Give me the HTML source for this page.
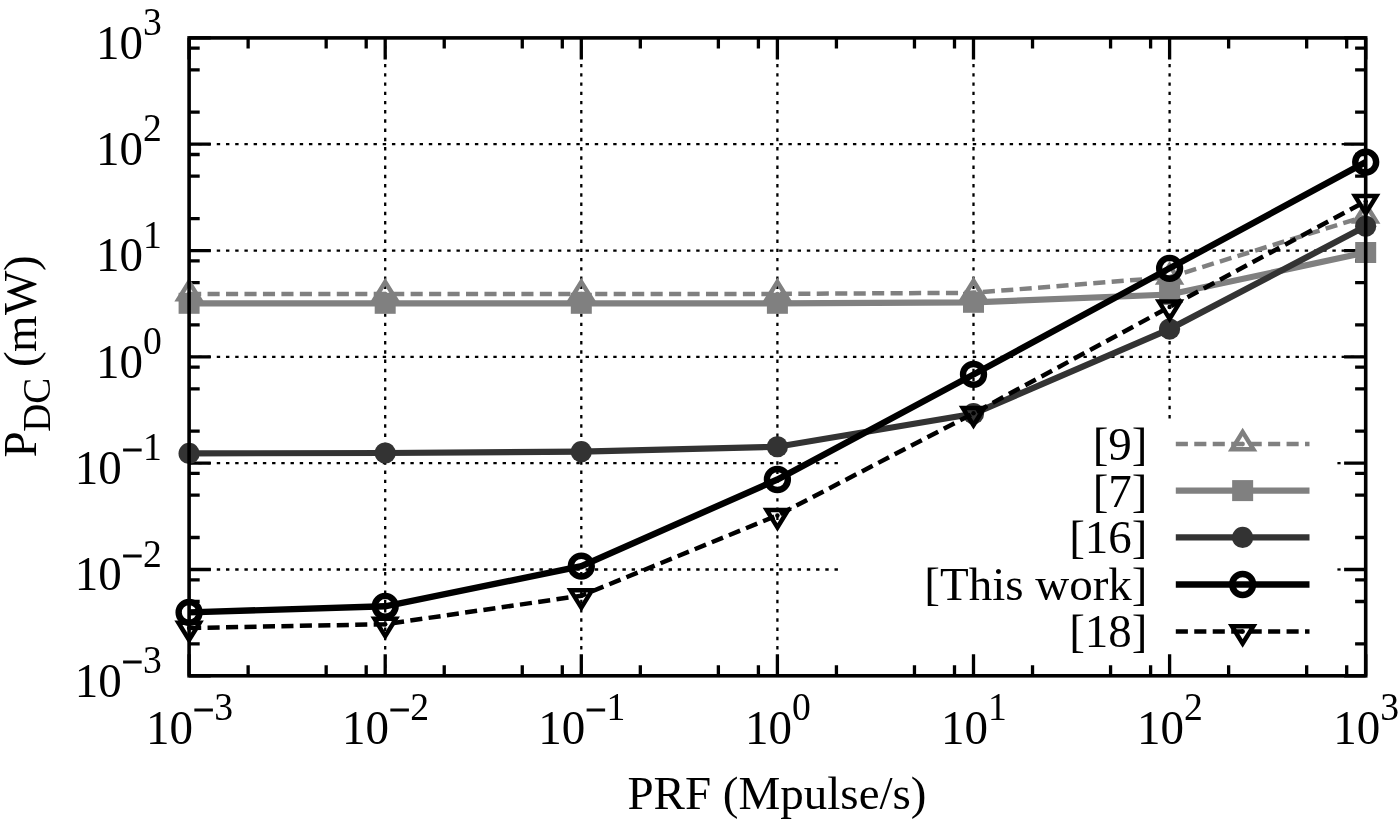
<!DOCTYPE html>
<html lang="en"><head><meta charset="utf-8"><title>P_DC vs PRF</title>
<style>html,body{margin:0;padding:0;background:#fff;overflow:hidden}svg{display:block}text{font-family:"Liberation Serif", serif;fill:#000}</style>
</head><body>
<svg width="1400" height="823" viewBox="0 0 1400 823">
<rect x="0" y="0" width="1400" height="823" fill="#ffffff"/>
<g fill="none" stroke="#000" stroke-width="2.3">
<path d="M189.1 144.22H1365.7" stroke-dasharray="3.4 5.82" stroke-dashoffset="0"/>
<path d="M189.1 250.53H1365.7" stroke-dasharray="3.4 5.82" stroke-dashoffset="0"/>
<path d="M189.1 356.85H1365.7" stroke-dasharray="3.4 5.82" stroke-dashoffset="0"/>
<path d="M189.1 463.17H839" stroke-dasharray="3.4 5.82" stroke-dashoffset="0"/>
<path d="M1337.4 463.17H1340.6"/>
<path d="M189.1 569.48H839" stroke-dasharray="3.4 5.82" stroke-dashoffset="0"/>
<path d="M1337.4 569.48H1340.6"/>
<path d="M385.2 37.9V675.8" stroke-dasharray="3.4 5.84" stroke-dashoffset="1.7"/>
<path d="M581.3 37.9V675.8" stroke-dasharray="3.4 5.84" stroke-dashoffset="1.7"/>
<path d="M777.4 37.9V675.8" stroke-dasharray="3.4 5.84" stroke-dashoffset="1.7"/>
<path d="M973.5 37.9V421" stroke-dasharray="3.4 5.84" stroke-dashoffset="1.7"/>
<path d="M973.5 665V675.8" stroke-dasharray="3.4 5.84" stroke-dashoffset="0.48"/>
<path d="M1169.6 37.9V421" stroke-dasharray="3.4 5.84" stroke-dashoffset="1.7"/>
<path d="M1169.6 665V675.8" stroke-dasharray="3.4 5.84" stroke-dashoffset="0.48"/>
</g>
<path d="M189.1 675.8V654.2M189.1 37.9V59.5M189.1 37.9H210.7M1365.7 37.9H1344.1M385.2 675.8V654.2M385.2 37.9V59.5M189.1 144.22H210.7M1365.7 144.22H1344.1M581.3 675.8V654.2M581.3 37.9V59.5M189.1 250.53H210.7M1365.7 250.53H1344.1M777.4 675.8V654.2M777.4 37.9V59.5M189.1 356.85H210.7M1365.7 356.85H1344.1M973.5 675.8V654.2M973.5 37.9V59.5M189.1 463.17H210.7M1365.7 463.17H1344.1M1169.6 675.8V654.2M1169.6 37.9V59.5M189.1 569.48H210.7M1365.7 569.48H1344.1M1365.7 675.8V654.2M1365.7 37.9V59.5M189.1 675.8H210.7M1365.7 675.8H1344.1M248.13 675.8V665.2M248.13 37.9V48.5M189.1 643.8H199.7M1365.7 643.8H1355.1M326.17 675.8V665.2M326.17 37.9V48.5M189.1 601.49H199.7M1365.7 601.49H1355.1M366.2 675.8V665.2M366.2 37.9V48.5M189.1 579.79H199.7M1365.7 579.79H1355.1M444.23 675.8V665.2M444.23 37.9V48.5M189.1 537.48H199.7M1365.7 537.48H1355.1M522.27 675.8V665.2M522.27 37.9V48.5M189.1 495.17H199.7M1365.7 495.17H1355.1M562.3 675.8V665.2M562.3 37.9V48.5M189.1 473.47H199.7M1365.7 473.47H1355.1M640.33 675.8V665.2M640.33 37.9V48.5M189.1 431.16H199.7M1365.7 431.16H1355.1M718.37 675.8V665.2M718.37 37.9V48.5M189.1 388.85H199.7M1365.7 388.85H1355.1M758.4 675.8V665.2M758.4 37.9V48.5M189.1 367.15H199.7M1365.7 367.15H1355.1M836.43 675.8V665.2M836.43 37.9V48.5M189.1 324.85H199.7M1365.7 324.85H1355.1M914.47 675.8V665.2M914.47 37.9V48.5M189.1 282.54H199.7M1365.7 282.54H1355.1M954.5 675.8V665.2M954.5 37.9V48.5M189.1 260.84H199.7M1365.7 260.84H1355.1M1032.53 675.8V665.2M1032.53 37.9V48.5M189.1 218.53H199.7M1365.7 218.53H1355.1M1110.57 675.8V665.2M1110.57 37.9V48.5M189.1 176.22H199.7M1365.7 176.22H1355.1M1150.6 675.8V665.2M1150.6 37.9V48.5M189.1 154.52H199.7M1365.7 154.52H1355.1M1228.63 675.8V665.2M1228.63 37.9V48.5M189.1 112.21H199.7M1365.7 112.21H1355.1M1306.67 675.8V665.2M1306.67 37.9V48.5M189.1 69.9H199.7M1365.7 69.9H1355.1M1346.7 675.8V665.2M1346.7 37.9V48.5M189.1 48.2H199.7M1365.7 48.2H1355.1" fill="none" stroke="#000" stroke-width="3.3"/>
<g>
<polyline points="189.1,293.9 385.2,293.9 581.3,293.9 777.4,293.9 973.5,292.8 1169.6,277.2 1365.7,216.2" fill="none" stroke="#808080" stroke-width="4.5" stroke-linejoin="miter" stroke-dasharray="12.1 6.36"/>
<path d="M189.1 281.92L178.4 299.25H199.8Z" fill="none" stroke="#808080" stroke-width="4.5" stroke-linejoin="miter" stroke-miterlimit="10"/><circle cx="189.1" cy="293.9" r="2.25" fill="#808080"/>
<path d="M385.2 281.92L374.5 299.25H395.9Z" fill="none" stroke="#808080" stroke-width="4.5" stroke-linejoin="miter" stroke-miterlimit="10"/><circle cx="385.2" cy="293.9" r="2.25" fill="#808080"/>
<path d="M581.3 281.92L570.6 299.25H592Z" fill="none" stroke="#808080" stroke-width="4.5" stroke-linejoin="miter" stroke-miterlimit="10"/><circle cx="581.3" cy="293.9" r="2.25" fill="#808080"/>
<path d="M777.4 281.92L766.7 299.25H788.1Z" fill="none" stroke="#808080" stroke-width="4.5" stroke-linejoin="miter" stroke-miterlimit="10"/><circle cx="777.4" cy="293.9" r="2.25" fill="#808080"/>
<path d="M973.5 280.82L962.8 298.15H984.2Z" fill="none" stroke="#808080" stroke-width="4.5" stroke-linejoin="miter" stroke-miterlimit="10"/><circle cx="973.5" cy="292.8" r="2.25" fill="#808080"/>
<path d="M1169.6 265.22L1158.9 282.55H1180.3Z" fill="none" stroke="#808080" stroke-width="4.5" stroke-linejoin="miter" stroke-miterlimit="10"/><circle cx="1169.6" cy="277.2" r="2.25" fill="#808080"/>
<path d="M1365.7 204.22L1355 221.55H1376.4Z" fill="none" stroke="#808080" stroke-width="4.5" stroke-linejoin="miter" stroke-miterlimit="10"/><circle cx="1365.7" cy="216.2" r="2.25" fill="#808080"/>
</g>
<g>
<polyline points="189.1,303.3 385.2,303.3 581.3,303.3 777.4,303.3 973.5,302.3 1169.6,294.5 1365.7,252.5" fill="none" stroke="#808080" stroke-width="6.2" stroke-linejoin="miter"/>
<rect x="178.6" y="292.8" width="21" height="21" fill="#808080"/>
<rect x="374.7" y="292.8" width="21" height="21" fill="#808080"/>
<rect x="570.8" y="292.8" width="21" height="21" fill="#808080"/>
<rect x="766.9" y="292.8" width="21" height="21" fill="#808080"/>
<rect x="963" y="291.8" width="21" height="21" fill="#808080"/>
<rect x="1159.1" y="284" width="21" height="21" fill="#808080"/>
<rect x="1355.2" y="242" width="21" height="21" fill="#808080"/>
</g>
<g>
<polyline points="189.1,453.4 385.2,453 581.3,451.7 777.4,446.75 973.5,413.7 1169.6,329.1 1365.7,226.3" fill="none" stroke="#333333" stroke-width="6.2" stroke-linejoin="miter"/>
<circle cx="189.1" cy="453.4" r="10.6" fill="#333333"/>
<circle cx="385.2" cy="453" r="10.6" fill="#333333"/>
<circle cx="581.3" cy="451.7" r="10.6" fill="#333333"/>
<circle cx="777.4" cy="446.75" r="10.6" fill="#333333"/>
<circle cx="973.5" cy="413.7" r="10.6" fill="#333333"/>
<circle cx="1169.6" cy="329.1" r="10.6" fill="#333333"/>
<circle cx="1365.7" cy="226.3" r="10.6" fill="#333333"/>
</g>
<g>
<polyline points="189.1,612.4 385.2,606.3 581.3,566.2 777.4,479.5 973.5,374.45 1169.6,268.3 1365.7,162.1" fill="none" stroke="#000000" stroke-width="6.4" stroke-linejoin="miter"/>
<circle cx="189.1" cy="612.4" r="10.45" fill="none" stroke="#000000" stroke-width="6.4"/>
<circle cx="385.2" cy="606.3" r="10.45" fill="none" stroke="#000000" stroke-width="6.4"/>
<circle cx="581.3" cy="566.2" r="10.45" fill="none" stroke="#000000" stroke-width="6.4"/>
<circle cx="777.4" cy="479.5" r="10.45" fill="none" stroke="#000000" stroke-width="6.4"/>
<circle cx="973.5" cy="374.45" r="10.45" fill="none" stroke="#000000" stroke-width="6.4"/>
<circle cx="1169.6" cy="268.3" r="10.45" fill="none" stroke="#000000" stroke-width="6.4"/>
<circle cx="1365.7" cy="162.1" r="10.45" fill="none" stroke="#000000" stroke-width="6.4"/>
</g>
<g>
<polyline points="189.1,628 385.2,624.2 581.3,595.7 777.4,515.4 973.5,413.3 1169.6,306.9 1365.7,201.4" fill="none" stroke="#000000" stroke-width="4.5" stroke-linejoin="miter" stroke-dasharray="12.1 6.36"/>
<path d="M189.1 639.98L178.4 622.65H199.8Z" fill="none" stroke="#000000" stroke-width="4.5" stroke-linejoin="miter" stroke-miterlimit="10"/><circle cx="189.1" cy="628" r="2.25" fill="#000000"/>
<path d="M385.2 636.18L374.5 618.85H395.9Z" fill="none" stroke="#000000" stroke-width="4.5" stroke-linejoin="miter" stroke-miterlimit="10"/><circle cx="385.2" cy="624.2" r="2.25" fill="#000000"/>
<path d="M581.3 607.68L570.6 590.35H592Z" fill="none" stroke="#000000" stroke-width="4.5" stroke-linejoin="miter" stroke-miterlimit="10"/><circle cx="581.3" cy="595.7" r="2.25" fill="#000000"/>
<path d="M777.4 527.38L766.7 510.05H788.1Z" fill="none" stroke="#000000" stroke-width="4.5" stroke-linejoin="miter" stroke-miterlimit="10"/><circle cx="777.4" cy="515.4" r="2.25" fill="#000000"/>
<path d="M973.5 425.28L962.8 407.95H984.2Z" fill="none" stroke="#000000" stroke-width="4.5" stroke-linejoin="miter" stroke-miterlimit="10"/><circle cx="973.5" cy="413.3" r="2.25" fill="#000000"/>
<path d="M1169.6 318.88L1158.9 301.55H1180.3Z" fill="none" stroke="#000000" stroke-width="4.5" stroke-linejoin="miter" stroke-miterlimit="10"/><circle cx="1169.6" cy="306.9" r="2.25" fill="#000000"/>
<path d="M1365.7 213.38L1355 196.05H1376.4Z" fill="none" stroke="#000000" stroke-width="4.5" stroke-linejoin="miter" stroke-miterlimit="10"/><circle cx="1365.7" cy="201.4" r="2.25" fill="#000000"/>
</g>
<rect x="189.1" y="37.9" width="1176.6" height="637.9" fill="none" stroke="#000" stroke-width="3.6"/>
<path d="M1175.8 443.9H1309.5" fill="none" stroke="#808080" stroke-width="4.5" stroke-dasharray="12.1 6.36"/>
<path d="M1242.65 431.92L1231.95 449.25H1253.35Z" fill="none" stroke="#808080" stroke-width="4.5" stroke-linejoin="miter" stroke-miterlimit="10"/><circle cx="1242.65" cy="443.9" r="2.25" fill="#808080"/>
<text x="1147.5" y="459.7" font-size="47" text-anchor="end">[9]</text>
<path d="M1175.8 490.6H1309.5" fill="none" stroke="#808080" stroke-width="6.2"/>
<rect x="1232.15" y="480.1" width="21" height="21" fill="#808080"/>
<text x="1147.5" y="506.7" font-size="47" text-anchor="end">[7]</text>
<path d="M1175.8 537.4H1309.5" fill="none" stroke="#333333" stroke-width="6.2"/>
<circle cx="1242.65" cy="537.4" r="10.6" fill="#333333"/>
<text x="1147.5" y="553.4" font-size="47" text-anchor="end">[16]</text>
<path d="M1175.8 584.5H1309.5" fill="none" stroke="#000000" stroke-width="6.4"/>
<circle cx="1242.65" cy="584.5" r="10.45" fill="none" stroke="#000000" stroke-width="6.4"/>
<text x="1147.5" y="600.3" font-size="47" text-anchor="end">[This work]</text>
<path d="M1175.8 631.5H1309.5" fill="none" stroke="#000000" stroke-width="4.5" stroke-dasharray="12.1 6.36"/>
<path d="M1242.65 643.48L1231.95 626.15H1253.35Z" fill="none" stroke="#000000" stroke-width="4.5" stroke-linejoin="miter" stroke-miterlimit="10"/><circle cx="1242.65" cy="631.5" r="2.25" fill="#000000"/>
<text x="1147.5" y="647.3" font-size="47" text-anchor="end">[18]</text>
<text transform="translate(161.8 58.6) scale(1 1.04)" font-size="47" text-anchor="end">10<tspan font-size="37.6" dy="-22.69">3</tspan></text>
<text transform="translate(161.8 164.92) scale(1 1.04)" font-size="47" text-anchor="end">10<tspan font-size="37.6" dy="-22.69">2</tspan></text>
<text transform="translate(161.8 271.23) scale(1 1.04)" font-size="47" text-anchor="end">10<tspan font-size="37.6" dy="-22.69">1</tspan></text>
<text transform="translate(161.8 377.55) scale(1 1.04)" font-size="47" text-anchor="end">10<tspan font-size="37.6" dy="-22.69">0</tspan></text>
<text transform="translate(161.8 483.87) scale(1 1.04)" font-size="47" text-anchor="end">10<tspan font-size="37.6" dy="-20.29" stroke="#000" stroke-width="1">−</tspan><tspan font-size="37.6" dy="-2.4">1</tspan></text>
<text transform="translate(161.8 590.18) scale(1 1.04)" font-size="47" text-anchor="end">10<tspan font-size="37.6" dy="-20.29" stroke="#000" stroke-width="1">−</tspan><tspan font-size="37.6" dy="-2.4">2</tspan></text>
<text transform="translate(161.8 696.5) scale(1 1.04)" font-size="47" text-anchor="end">10<tspan font-size="37.6" dy="-20.29" stroke="#000" stroke-width="1">−</tspan><tspan font-size="37.6" dy="-2.4">3</tspan></text>
<text transform="translate(189.5 743.8) scale(1 1.04)" font-size="47" text-anchor="middle">10<tspan font-size="37.6" dy="-20.29" stroke="#000" stroke-width="1">−</tspan><tspan font-size="37.6" dy="-2.4">3</tspan></text>
<text transform="translate(385.6 743.8) scale(1 1.04)" font-size="47" text-anchor="middle">10<tspan font-size="37.6" dy="-20.29" stroke="#000" stroke-width="1">−</tspan><tspan font-size="37.6" dy="-2.4">2</tspan></text>
<text transform="translate(581.7 743.8) scale(1 1.04)" font-size="47" text-anchor="middle">10<tspan font-size="37.6" dy="-20.29" stroke="#000" stroke-width="1">−</tspan><tspan font-size="37.6" dy="-2.4">1</tspan></text>
<text transform="translate(777.8 743.8) scale(1 1.04)" font-size="47" text-anchor="middle">10<tspan font-size="37.6" dy="-22.69">0</tspan></text>
<text transform="translate(973.9 743.8) scale(1 1.04)" font-size="47" text-anchor="middle">10<tspan font-size="37.6" dy="-22.69">1</tspan></text>
<text transform="translate(1170 743.8) scale(1 1.04)" font-size="47" text-anchor="middle">10<tspan font-size="37.6" dy="-22.69">2</tspan></text>
<text transform="translate(1366.1 743.8) scale(1 1.04)" font-size="47" text-anchor="middle">10<tspan font-size="37.6" dy="-22.69">3</tspan></text>
<text x="777" y="808.8" font-size="47" text-anchor="middle">PRF (Mpulse/s)</text>
<text transform="translate(35.6 0) rotate(-90)" font-size="47"><tspan x="-457.6" y="0">P</tspan><tspan x="-431.8" y="14.7" font-size="39">DC</tspan><tspan y="0"> </tspan><tspan x="-367.1" y="0">(</tspan><tspan x="-351.9" y="0">m</tspan><tspan x="-315" y="0">W</tspan><tspan x="-270.95" y="0">)</tspan></text>
</svg></body></html>
